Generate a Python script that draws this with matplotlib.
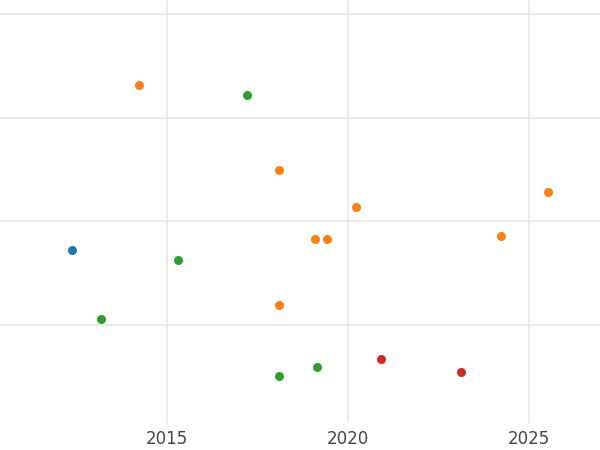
import matplotlib
matplotlib.use("Agg")
from matplotlib import pyplot as plt

# points per series (x = year, y = arbitrary units)
blue_x = [2012.38]
blue_y = [-0.28]
orange_x = [2014.23, 2018.10, 2020.22, 2019.09, 2019.42, 2024.23, 2025.53, 2018.10]
orange_y = [1.32, 0.50, 0.14, -0.17, -0.17, -0.14, 0.28, -0.81]
green_x = [2017.21, 2015.31, 2013.18, 2018.10, 2019.15]
green_y = [1.22, -0.37, -0.94, -1.50, -1.41]
red_x = [2020.91, 2023.12]
red_y = [-1.33, -1.46]

fig = plt.figure(figsize=(6, 4.5), dpi=100)
ax = fig.add_axes([0, 0.06, 1, 0.94])

ax.scatter(blue_x, blue_y, c="#1f77b4", s=30, zorder=3)
ax.scatter(orange_x, orange_y, c="#ff7f0e", s=30, zorder=3)
ax.scatter(green_x, green_y, c="#2ca02c", s=30, zorder=3)
ax.scatter(red_x, red_y, c="#d62728", s=30, zorder=3)

ax.set_xlim(2010.39, 2026.96)
ax.set_ylim(-1.95, 2.14)
ax.set_xticks([2015, 2020, 2025])
ax.set_yticks([-1, 0, 1, 2])
ax.set_yticklabels([])
ax.grid(True, color="#e8e8e8", linewidth=1.2)
ax.set_axisbelow(True)
for s in ax.spines.values():
    s.set_visible(False)
ax.tick_params(length=0, labelsize=12, labelcolor="#444444", pad=5)

fig.savefig("out.png", dpi=100)
